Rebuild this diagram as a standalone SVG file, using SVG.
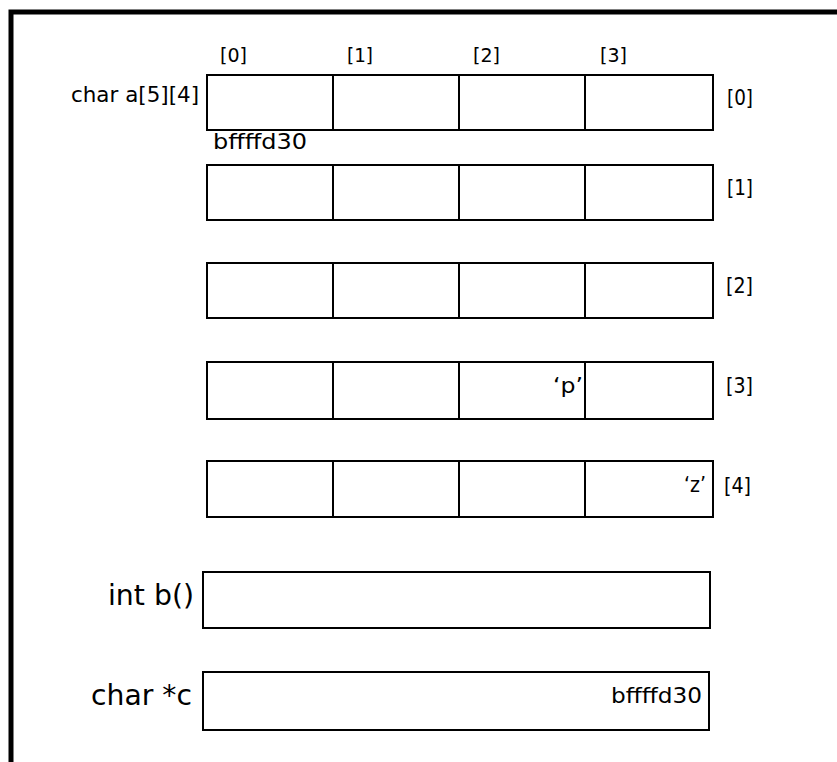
<svg xmlns="http://www.w3.org/2000/svg" width="837" height="762" viewBox="0 0 837 762">
<style>
.c{fill:#fff;stroke:#000;stroke-width:2}
.d{fill:none;stroke:#000;stroke-width:2}
.t{font-family:"DejaVu Sans","Liberation Sans",Arial,sans-serif;fill:#000}
.h{font-size:20px}
.s{font-size:21px}
.l{font-size:29px}
.m{font-size:22px}
</style>
<rect width="837" height="762" fill="#fff"/>
<path d="M11,762 V12 H837" fill="none" stroke="#000" stroke-width="5"/>
<g id="headers" class="t h">
<text x="220" y="62" textLength="27" lengthAdjust="spacingAndGlyphs">[0]</text>
<text x="347" y="62" textLength="26" lengthAdjust="spacingAndGlyphs">[1]</text>
<text x="473" y="62" textLength="27" lengthAdjust="spacingAndGlyphs">[2]</text>
<text x="600" y="62" textLength="27" lengthAdjust="spacingAndGlyphs">[3]</text>
</g>
<g id="a">
<text class="t s" x="71" y="102" textLength="128" lengthAdjust="spacingAndGlyphs">char a[5][4]</text>
<text class="t m" x="213" y="149" textLength="94" lengthAdjust="spacingAndGlyphs">bffffd30</text>
<g id="row0"><rect class="c" x="207" y="75" width="506" height="55"/><path class="d" d="M333,75V130M459,75V130M585,75V130"/><text class="t s" x="727" y="105" textLength="26" lengthAdjust="spacingAndGlyphs">[0]</text></g>
<g id="row1"><rect class="c" x="207" y="165" width="506" height="55"/><path class="d" d="M333,165V220M459,165V220M585,165V220"/><text class="t s" x="727" y="195" textLength="26" lengthAdjust="spacingAndGlyphs">[1]</text></g>
<g id="row2"><rect class="c" x="207" y="263" width="506" height="55"/><path class="d" d="M333,263V318M459,263V318M585,263V318"/><text class="t s" x="726" y="293" textLength="27" lengthAdjust="spacingAndGlyphs">[2]</text></g>
<g id="row3"><rect class="c" x="207" y="362" width="506" height="57"/><path class="d" d="M333,362V419M459,362V419M585,362V419"/><text class="t s" x="726" y="393" textLength="27" lengthAdjust="spacingAndGlyphs">[3]</text><text class="t s" x="553" y="393" textLength="30" lengthAdjust="spacingAndGlyphs">‘p’</text></g>
<g id="row4"><rect class="c" x="207" y="461" width="506" height="56"/><path class="d" d="M333,461V517M459,461V517M585,461V517"/><text class="t s" x="724" y="493" textLength="27" lengthAdjust="spacingAndGlyphs">[4]</text><text class="t s" x="684" y="492" textLength="22" lengthAdjust="spacingAndGlyphs">‘z’</text></g>
</g>
<g id="b">
<text class="t l" x="108" y="605" textLength="86" lengthAdjust="spacingAndGlyphs">int b()</text>
<rect class="c" x="203" y="572" width="507" height="56"/>
</g>
<g id="c">
<text class="t l" x="91" y="705" textLength="101" lengthAdjust="spacingAndGlyphs">char *c</text>
<rect class="c" x="203" y="672" width="506" height="58"/>
<text class="t m" x="611" y="703" textLength="91" lengthAdjust="spacingAndGlyphs">bffffd30</text>
</g>
</svg>
